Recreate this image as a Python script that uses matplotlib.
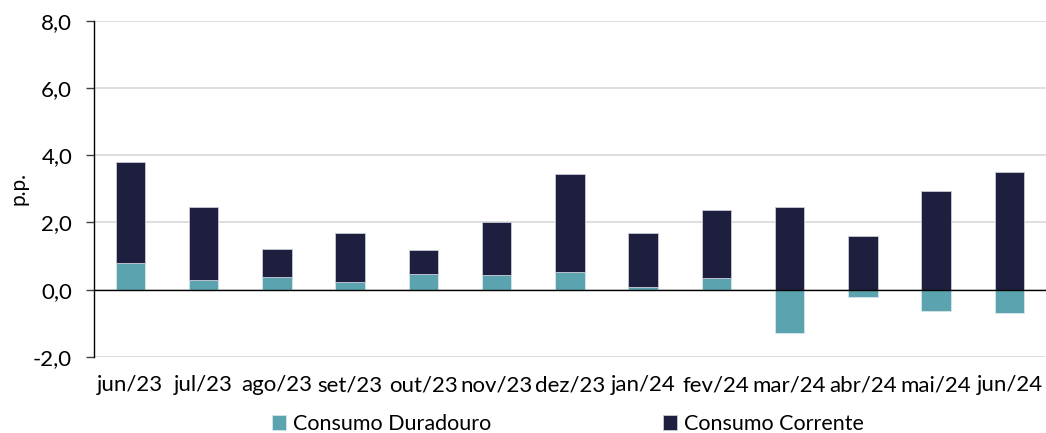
import matplotlib
matplotlib.use("Agg")
import matplotlib.pyplot as plt
import numpy as np

months = ["jun/23", "jul/23", "ago/23", "set/23", "out/23", "nov/23", "dez/23",
          "jan/24", "fev/24", "mar/24", "abr/24", "mai/24", "jun/24"]
duradouro = [0.79, 0.28, 0.39, 0.23, 0.48, 0.43, 0.53, 0.08, 0.34, -1.29, -0.22, -0.63, -0.68]
corrente = [3.00, 2.18, 0.81, 1.47, 0.71, 1.59, 2.91, 1.62, 2.02, 2.47, 1.60, 2.93, 3.49]
yticks = [-2, 0, 2, 4, 6, 8]

teal = "#5BA3AE"
navy = "#1E1F3F"

plt.rcParams["font.family"] = ["Lato", "DejaVu Sans"]

fig = plt.figure(figsize=(10.46, 4.33), dpi=100)
ax = fig.add_axes([0.0896, 0.1755, 0.9104, 0.7767])

x = np.arange(len(months))
dur = np.array(duradouro)
# corrente stacks on top of positive duradouro, starts at zero otherwise
base = np.where(dur > 0, dur, 0)

ax.bar(x, dur, width=0.4, color=teal, edgecolor="#D8E6EA", linewidth=0.6,
       label="Consumo Duradouro", zorder=3)
ax.bar(x, corrente, width=0.4, bottom=base, color=navy, edgecolor="#C8CAD6",
       linewidth=0.6, label="Consumo Corrente", zorder=3)

ax.set_xlim(-0.5, len(months) - 0.5)
ax.set_ylim(-2, 8)
ax.set_yticks(yticks)
ax.set_yticklabels([f"{v:.1f}".replace(".", ",") for v in yticks])
ax.set_xticks(x)
ax.set_xticklabels(months)
ax.set_ylabel("p.p.", fontsize=15, labelpad=3)

ax.grid(axis="y", color="#D9D9D9", linewidth=1.2, zorder=0)
ax.axhline(0, color="black", linewidth=1, zorder=4)
for s in ["top", "right", "bottom"]:
    ax.spines[s].set_visible(False)
ax.spines["left"].set_color("black")
ax.spines["left"].set_linewidth(1)

ax.tick_params(axis="y", labelsize=16, length=5.5, width=1, color="#404040", pad=10)
ax.tick_params(axis="x", labelsize=16, length=0, pad=13)

fig.legend(loc="center", bbox_to_anchor=(568 / 1046, 1 - 424 / 433), ncol=2, frameon=False,
           fontsize=15.5, handlelength=0.65, handleheight=0.65, handletextpad=0.3,
           columnspacing=8)

fig.savefig("out.png", dpi=100)
